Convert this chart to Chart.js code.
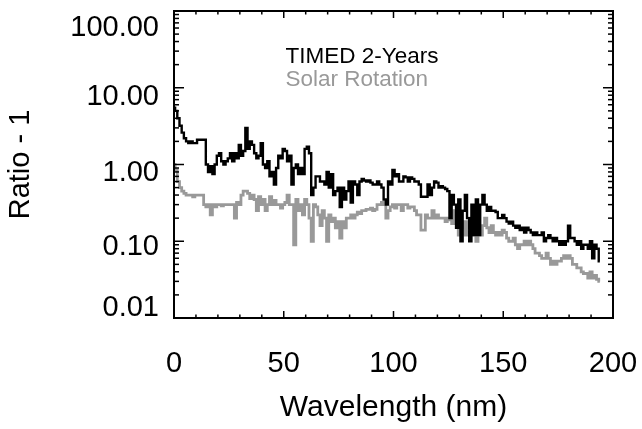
<!DOCTYPE html>
<html>
<head>
<meta charset="utf-8">
<script src="https://cdn.jsdelivr.net/npm/chart.js@4.4.0/dist/chart.umd.min.js"></script>
<style>
  html, body { margin: 0; padding: 0; background: #fff; }
  canvas { display: block; }
</style>
</head>
<body>
<canvas id="ratioChart" width="642" height="429"></canvas>
<script>
const wavelength = [
  0, 1, 2, 3, 4, 5, 6, 7, 8, 9, 10, 11, 12, 13, 14, 15, 16, 17, 18, 19,
  20, 21, 22, 23, 24, 25, 26, 27, 28, 29, 30, 31, 32, 33, 34, 35, 36, 37, 38, 39,
  40, 41, 42, 43, 44, 45, 46, 47, 48, 49, 50, 51, 52, 53, 54, 55, 56, 57, 58, 59,
  60, 61, 62, 63, 64, 65, 66, 67, 68, 69, 70, 71, 72, 73, 74, 75, 76, 77, 78, 79,
  80, 81, 82, 83, 84, 85, 86, 87, 88, 89, 90, 91, 92, 93, 94, 95, 96, 97, 98, 99,
  100, 101, 102, 103, 104, 105, 106, 107, 108, 109, 110, 111, 112, 113, 114, 115, 116, 117, 118, 119,
  120, 121, 122, 123, 124, 125, 126, 127, 128, 129, 130, 131, 132, 133, 134, 135, 136, 137, 138, 139,
  140, 141, 142, 143, 144, 145, 146, 147, 148, 149, 150, 151, 152, 153, 154, 155, 156, 157, 158, 159,
  160, 161, 162, 163, 164, 165, 166, 167, 168, 169, 170, 171, 172, 173, 174, 175, 176, 177, 178, 179,
  180, 181, 182, 183, 184, 185, 186, 187, 188, 189, 190, 191, 192, 193, 194
];

// TIMED 2-Years
const timedRatio = [
  5.5, 5.0, 4.0, 3.2, 2.6, 2.2, 2.0, 1.9, 2.0, 1.9, 1.9, 2.1, 2.1, 2.1, 2.1, 1.0, 0.8, 0.95, 0.75, 1.0,
  1.3, 1.4, 1.1, 1.0, 1.1, 1.2, 1.4, 1.1, 1.4, 1.2, 1.8, 1.3, 1.5, 3.0, 1.6, 2.0, 1.8, 1.4, 1.2, 1.3,
  1.9, 1.0, 0.9, 1.1, 0.7, 0.8, 0.55, 0.9, 1.3, 1.2, 1.6, 1.5, 1.1, 1.3, 0.55, 0.9, 1.0, 0.75, 0.9, 0.75,
  1.6, 1.7, 1.4, 0.4, 0.5, 0.7, 0.7, 0.6, 0.6, 0.55, 0.8, 0.5, 0.75, 0.4, 0.45, 0.5, 0.28, 0.5, 0.35, 0.45,
  0.6, 0.32, 0.6, 0.55, 0.4, 0.6, 0.65, 0.62, 0.6, 0.62, 0.58, 0.55, 0.55, 0.6, 0.55, 0.5, 0.35, 0.3, 0.6, 0.55,
  0.85, 0.7, 0.75, 0.6, 0.6, 0.7, 0.68, 0.6, 0.68, 0.65, 0.6, 0.6, 0.55, 0.38, 0.38, 0.38, 0.55, 0.4, 0.5, 0.6,
  0.58, 0.5, 0.52, 0.5, 0.48, 0.45, 0.2, 0.4, 0.3, 0.15, 0.35, 0.1, 0.25, 0.4, 0.2, 0.1, 0.3, 0.12, 0.35, 0.12,
  0.3, 0.4, 0.3, 0.25, 0.28, 0.25, 0.25, 0.24, 0.2, 0.2, 0.22, 0.2, 0.18, 0.17, 0.18, 0.16, 0.15, 0.16, 0.14, 0.15,
  0.13, 0.15, 0.14, 0.13, 0.12, 0.13, 0.12, 0.12, 0.13, 0.1, 0.11, 0.12, 0.11, 0.1, 0.11, 0.1, 0.09, 0.1, 0.09, 0.1,
  0.16, 0.11, 0.11, 0.1, 0.09, 0.1, 0.08, 0.09, 0.09, 0.08, 0.1, 0.06, 0.09, 0.08, 0.055
];

// Solar Rotation
const rotationRatio = [
  1.0, 0.85, 0.6, 0.5, 0.45, 0.42, 0.4, 0.4, 0.4, 0.38, 0.4, 0.4, 0.4, 0.4, 0.3, 0.28, 0.3, 0.22, 0.3, 0.28,
  0.3, 0.3, 0.29, 0.3, 0.3, 0.3, 0.3, 0.3, 0.2, 0.32, 0.3, 0.4, 0.45, 0.45, 0.42, 0.36, 0.4, 0.35, 0.25, 0.38,
  0.3, 0.35, 0.25, 0.3, 0.38, 0.3, 0.34, 0.3, 0.3, 0.27, 0.3, 0.32, 0.4, 0.3, 0.3, 0.09, 0.35, 0.25, 0.3, 0.22,
  0.35, 0.3, 0.2, 0.1, 0.3, 0.28, 0.22, 0.16, 0.25, 0.2, 0.1, 0.22, 0.18, 0.2, 0.15, 0.18, 0.11, 0.18, 0.15, 0.2,
  0.2, 0.22, 0.2, 0.22, 0.24, 0.23, 0.25, 0.25, 0.26, 0.26, 0.27, 0.25, 0.26, 0.3, 0.3, 0.32, 0.3, 0.2, 0.25, 0.28,
  0.3, 0.27, 0.3, 0.3, 0.25, 0.3, 0.3, 0.27, 0.28, 0.28, 0.25, 0.22, 0.22, 0.14, 0.14, 0.22, 0.2, 0.2, 0.25, 0.2,
  0.22, 0.2, 0.2, 0.2, 0.18, 0.2, 0.19, 0.17, 0.25, 0.22, 0.12, 0.15, 0.18, 0.12, 0.18, 0.2, 0.12, 0.14, 0.1, 0.13,
  0.12, 0.16, 0.2, 0.15, 0.13, 0.16, 0.13, 0.12, 0.13, 0.12, 0.14, 0.13, 0.11, 0.1, 0.1, 0.11, 0.09, 0.08, 0.09, 0.09,
  0.1, 0.09, 0.1, 0.09, 0.08, 0.07, 0.07, 0.065, 0.06, 0.06, 0.07, 0.06, 0.05, 0.055, 0.05, 0.055, 0.055, 0.06, 0.065, 0.06,
  0.065, 0.06, 0.05, 0.05, 0.045, 0.045, 0.04, 0.038, 0.038, 0.033, 0.04, 0.033, 0.036, 0.032, 0.03
];

const yTickValues = [0.01, 0.1, 1, 10, 100];
const xTickValues = [0, 50, 100, 150, 200];
const seriesNames = ["TIMED 2-Years", "Solar Rotation"];

const FONT = "'Liberation Sans', Arial, Helvetica, sans-serif";
// vertical nudge of each y label relative to its tick, as in the original figure
const yLabelShift = { 0.01: -10, 0.1: 6, 1: 8, 10: 9, 100: 17 };

const toPoints = (vals) => vals.map((v, i) => ({ x: wavelength[i], y: v }));

// frame, inward ticks on all four sides, y labels, text legend
const framePlugin = {
  id: "frame",
  afterDraw(chart) {
    const { ctx, chartArea: a } = chart;
    const xs = chart.scales.x, ys = chart.scales.y;
    ctx.save();
    ctx.strokeStyle = "#000";
    ctx.lineWidth = 1.5;
    const tick = (x1, y1, x2, y2) => { ctx.beginPath(); ctx.moveTo(x1, y1); ctx.lineTo(x2, y2); ctx.stroke(); };
    for (let v = 0; v <= 200; v += 10) {
      const px = xs.getPixelForValue(v);
      const len = v % 50 === 0 ? 7 : 3.5;
      tick(px, a.bottom, px, a.bottom - len);
      tick(px, a.top, px, a.top + len);
    }
    for (let d = 0.01; d < 99; d *= 10) {
      for (let m = 1; m <= 9; m++) {
        const py = ys.getPixelForValue(d * m);
        const len = m === 1 ? 10 : 5;
        tick(a.left, py, a.left + len, py);
        tick(a.right, py, a.right - len, py);
      }
    }
    ctx.lineWidth = 2;
    ctx.strokeRect(a.left, a.top, a.right - a.left, a.bottom - a.top);

    // y tick labels
    ctx.font = "29px " + FONT;
    ctx.fillStyle = "#000";
    ctx.textAlign = "right";
    ctx.textBaseline = "middle";
    yTickValues.forEach((v) => {
      ctx.fillText(v.toFixed(2), a.left - 15, ys.getPixelForValue(v) + yLabelShift[v]);
    });

    // legend text
    ctx.font = "22.5px " + FONT;
    ctx.textAlign = "left";
    const lx = a.left + (a.right - a.left) * 0.254;
    ctx.fillStyle = "#000";
    ctx.fillText(seriesNames[0], lx, a.top + 46);
    ctx.fillStyle = "#999999";
    ctx.fillText(seriesNames[1], lx, a.top + 69);
    ctx.restore();
  }
};

const config = {
  type: "line",
  data: {
    datasets: [
      {
        label: seriesNames[0],
        data: toPoints(timedRatio),
        borderColor: "#000000",
        borderWidth: 2.4,
        stepped: "middle",
        pointRadius: 0,
        fill: false,
        order: 1
      },
      {
        label: seriesNames[1],
        data: toPoints(rotationRatio),
        borderColor: "#999999",
        borderWidth: 2.8,
        stepped: "middle",
        pointRadius: 0,
        fill: false,
        order: 2
      }
    ]
  },
  options: {
    responsive: false,
    animation: false,
    devicePixelRatio: 1,
    layout: { padding: { top: 11, right: 29, bottom: 0, left: 0 } },
    plugins: {
      legend: { display: false },
      tooltip: { enabled: false }
    },
    scales: {
      x: {
        type: "linear",
        min: 0,
        max: 200,
        grid: { display: false, drawTicks: false },
        border: { display: false },
        afterBuildTicks: (s) => { s.ticks = xTickValues.map((v) => ({ value: v })); },
        afterFit: (s) => {
          s.height = 111;
          s.paddingLeft = 0; s.paddingRight = 0;
        },
        ticks: {
          color: "#000",
          font: { family: FONT, size: 29 },
          padding: 29,
          maxRotation: 0,
          autoSkip: false
        },
        title: {
          display: true,
          text: "Wavelength (nm)",
          color: "#000",
          font: { family: FONT, size: 30 },
          padding: { top: 0, bottom: 3 }
        }
      },
      y: {
        type: "logarithmic",
        min: 0.01,
        max: 100,
        grid: { display: false, drawTicks: false },
        border: { display: false },
        afterBuildTicks: (s) => { s.ticks = yTickValues.map((v) => ({ value: v })); },
        afterFit: (s) => {
          s.width = 174;
          s.paddingTop = 0; s.paddingBottom = 0;
        },
        ticks: { display: false },
        title: {
          display: true,
          text: "Ratio - 1",
          color: "#000",
          font: { family: FONT, size: 29 },
          padding: { top: 4, bottom: 0 }
        }
      }
    }
  },
  plugins: [framePlugin]
};

const ratioChart = new Chart(document.getElementById("ratioChart"), config);
</script>
</body>
</html>
